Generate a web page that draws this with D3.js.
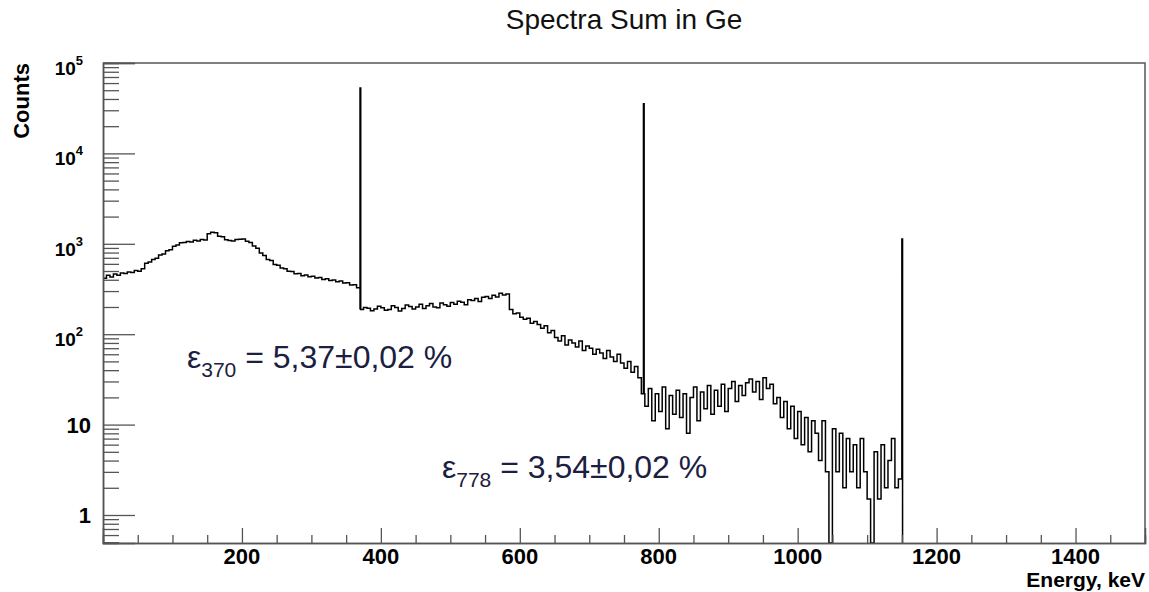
<!DOCTYPE html>
<html>
<head>
<meta charset="utf-8">
<script src="https://cdn.jsdelivr.net/npm/d3@7"></script>
<style>
  body { margin: 0; background: #fff; }
  svg { display: block; }
</style>
</head>
<body>
<script>
// continuum counts, 5 keV bins starting at 0 keV
const binWidth = 5;
const counts = [
  415, 450, 428, 462, 448, 476, 470, 488, 482, 505,
  498, 530, 610, 628, 672, 690, 752, 772, 836, 858,
  940, 968, 1025, 1036, 1062, 1050, 1098, 1072, 1118, 1105,
  1290, 1340, 1322, 1215, 1195, 1110, 1085, 1075, 1118, 1126,
  1132, 1070, 1035, 945, 895, 790, 742, 672, 652, 592,
  578, 540, 528, 498, 495, 466, 470, 444, 452, 432,
  438, 418, 424, 402, 410, 392, 398, 380, 388, 368,
  370, 350, 352, 326,
  188, 198, 194, 182, 190, 204,
  196, 184, 188, 206, 198, 180, 192, 210, 202, 190,
  200, 214, 192, 206, 218, 200, 196, 222, 212, 204,
  224, 214, 232, 226, 212, 240, 236, 248, 230, 256,
  262, 248, 270, 258, 284, 272, 278,
  188, 168, 172,
  154, 146, 150, 132, 138, 128, 116, 124, 104, 110,
  92, 84, 96, 76, 86, 80, 72, 84, 66, 74,
  70, 60, 68, 62, 54, 66, 56, 50, 60, 48,
  42, 50, 38, 44, 33,
  22,
  16, 25, 11, 22, 14, 26, 9, 21, 13, 24,
  12, 22, 8, 20, 26, 11, 23, 15, 27, 13,
  24, 16, 28, 14, 25, 30, 18, 27, 21, 29,
  32, 23, 30, 19, 33, 25, 28, 17, 20, 12,
  18, 9, 16, 7, 14, 6, 12, 5, 11, 8,
  4, 11, 3, 0, 9, 3, 8, 2, 7, 3,
  6, 2, 7, 3, 1.5, 0, 5, 1.5, 6, 2, 4, 7, 2, 2.5
];
const peakEnergies = [370, 778, 1150];
const peakCounts = [53000, 35500, 1130];

const xLabelTicks = [200, 400, 600, 800, 1000, 1200, 1400];
const yDecades = [1, 10, 100, 1000, 10000, 100000];
const effEnergies = ["370", "778"];
const effValues = ["5,37±0,02 %", "3,54±0,02 %"];

(function app() {
  let svgSize = { w: 1149, h: 592 };
  let margin = { top: 63, right: 4, bottom: 49, left: 103 };
  let w = svgSize.w - margin.left - margin.right;
  let h = svgSize.h - margin.top - margin.bottom;
  let yMin = 0.49;

  let svg = d3
    .select("body")
    .append("svg")
    .attr("width", svgSize.w)
    .attr("height", svgSize.h)
    .style("font-family", "'Liberation Sans', Arial, Helvetica, sans-serif");

  let x = d3.scaleLinear().domain([0, 1500]).range([0, w]);
  let y = d3.scaleLog().domain([yMin, 100000]).range([h, 0]);

  svg
    .append("text")
    .attr("x", 624)
    .attr("y", 29)
    .attr("text-anchor", "middle")
    .attr("font-size", 28)
    .attr("fill", "#111")
    .text("Spectra Sum in Ge");

  let grp = svg
    .append("g")
    .attr("class", "graph")
    .attr("transform", `translate(${margin.left},${margin.top})`);

  // histogram as a step line, peaks inserted as 1 keV wide spikes
  let pts = counts.map((c, i) => [i * binWidth, c]);
  peakEnergies.forEach((e, k) => {
    let after = counts[Math.floor((e + 1) / binWidth)];
    pts.push([e, peakCounts[k]], [e + 1, after === undefined ? 0 : after]);
  });
  pts.sort((a, b) => a[0] - b[0]);

  let line = d3
    .line()
    .x(d => x(d[0]))
    .y(d => y(Math.max(d[1], yMin)))
    .curve(d3.curveStepAfter);

  grp
    .append("path")
    .attr("fill", "none")
    .attr("stroke", "#000")
    .attr("stroke-width", 1.5)
    .attr("d", line(pts));

  // axes with inward ticks
  let axisColor = "#555";
  let minorX = d3.range(50, 1500, 50).filter(v => v % 200 !== 0);
  grp
    .append("g")
    .attr("transform", `translate(0,${h})`)
    .call(d3.axisBottom(x).tickValues(minorX).tickSize(-8).tickFormat(""));
  grp
    .append("g")
    .attr("transform", `translate(0,${h})`)
    .call(d3.axisBottom(x).tickValues(xLabelTicks).tickSize(-15).tickFormat(""));

  let minorY = [];
  [0.1, 1, 10, 100, 1000, 10000].forEach(d => {
    for (let m = 2; m <= 9; m++) {
      let v = d * m;
      if (v >= yMin && v < 100000) minorY.push(v);
    }
  });
  grp
    .append("g")
    .call(d3.axisLeft(y).tickValues(minorY).tickSize(-16).tickFormat(""));
  grp
    .append("g")
    .call(d3.axisLeft(y).tickValues(yDecades).tickSize(-32).tickFormat(""));

  grp.selectAll(".domain").attr("stroke", axisColor).attr("stroke-width", 1.5);
  grp.selectAll(".tick line").attr("stroke", axisColor).attr("stroke-width", 1.3);

  // frame top and right
  grp
    .append("path")
    .attr("fill", "none")
    .attr("stroke", axisColor)
    .attr("stroke-width", 1.5)
    .attr("d", `M0,0H${w}V${h}`);

  // tick labels
  grp
    .append("g")
    .selectAll("text")
    .data(xLabelTicks)
    .enter()
    .append("text")
    .attr("x", d => x(d))
    .attr("y", h + 21)
    .attr("text-anchor", "middle")
    .attr("font-size", 22)
    .attr("font-weight", "bold")
    .text(d => d);

  let ylab = grp
    .append("g")
    .selectAll("text")
    .data(yDecades)
    .enter()
    .append("text")
    .attr("text-anchor", "end")
    .attr("font-weight", "bold");
  ylab
    .filter(d => d < 100)
    .attr("x", -12)
    .attr("y", d => y(d) + 8)
    .attr("font-size", 22)
    .text(d => d);
  let ysup = ylab
    .filter(d => d >= 100)
    .attr("x", -20)
    .attr("y", d => y(d) + 12)
    .attr("font-size", 19);
  ysup.append("tspan").text("10");
  ysup
    .append("tspan")
    .attr("dy", -10)
    .attr("font-size", 13)
    .text(d => Math.round(Math.log10(d)));

  svg
    .append("text")
    .attr("transform", "translate(29,63) rotate(-90)")
    .attr("text-anchor", "end")
    .attr("font-size", 22)
    .attr("font-weight", "bold")
    .text("Counts");

  svg
    .append("text")
    .attr("x", margin.left + w)
    .attr("y", 587)
    .attr("text-anchor", "end")
    .attr("font-size", 21)
    .attr("font-weight", "bold")
    .text("Energy, keV");

  // efficiency annotations
  let annPos = [
    { x: 187, y: 368 },
    { x: 442, y: 478 }
  ];
  effEnergies.forEach((e, i) => {
    let t = svg
      .append("text")
      .attr("x", annPos[i].x)
      .attr("y", annPos[i].y)
      .attr("font-size", 32)
      .attr("fill", "#1b2040");
    t.append("tspan").text("ε");
    t.append("tspan").attr("dy", 9).attr("font-size", 21).text(e);
    t.append("tspan").attr("dy", -9).text(" = " + effValues[i]);
  });
})();
</script>
</body>
</html>
